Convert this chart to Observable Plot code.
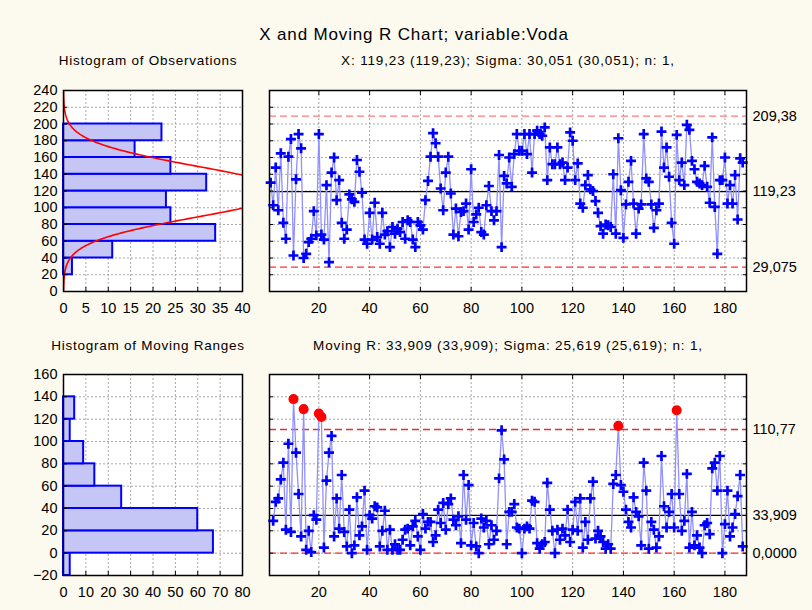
<!DOCTYPE html>
<html><head><meta charset="utf-8">
<script src="https://cdn.jsdelivr.net/npm/d3@7"></script>
<script src="https://cdn.jsdelivr.net/npm/@observablehq/plot@0.6"></script>
<style>
body{margin:0;background:#fcf9ee;}
#wrap{position:relative;width:812px;height:610px;background:#fcf9ee;font-family:"Liberation Sans",Arial,sans-serif;overflow:hidden;}
.t{position:absolute;white-space:nowrap;color:#000;line-height:normal;transform:translateX(-50%);}
.p{position:absolute;}
</style></head><body><div id="wrap"></div>
<script>
// ---- data ----
const xValues = [130,103,148,97,165,82,63,161,182,43,
134,188,171,40,45,59,63,96,67,188,
68,62,127,35,142,160,109,133,82,63,
74,116,110,107,157,143,118,62,57,94,
62,106,65,57,94,68,72,53,77,69,
75,71,83,63,85,83,62,53,83,79,
74,109,132,161,189,177,161,123,97,142,
161,117,68,99,66,95,96,105,74,146,
83,92,100,71,68,103,126,96,85,96,
163,53,138,129,160,125,164,188,168,168,
188,164,188,142,188,192,188,186,196,133,
172,152,152,172,152,154,133,148,190,180,
133,153,105,100,127,139,122,120,108,94,
78,69,80,79,77,140,69,183,121,64,
104,131,156,105,69,99,104,188,135,131,
104,76,97,105,191,148,172,137,82,57,
187,133,154,127,199,193,156,146,131,129,
127,150,125,106,184,101,45,133,133,160,
105,127,105,139,86,159,154];
// moving ranges for observations 2..187
const mrValues = [29,46,49,66,81,21,98,19,138,90,
53,15,129,3,20,1,34,30,125,122,
5,65,90,105,15,49,22,70,19,6,
39,0,7,50,16,24,56,3,34,31,
42,41,6,20,38,3,21,3,8,3,
3,12,21,22,7,24,29,15,3,35,
22,28,28,10,16,39,27,45,21,44,
49,30,25,33,9,70,30,61,7,27,
6,0,31,23,29,8,25,12,20,67,
110,84,8,37,37,44,23,22,0,22,
24,22,47,46,9,4,8,10,63,39,
20,0,21,12,22,16,39,10,21,46,
20,49,5,28,12,49,64,13,20,15,
10,4,8,4,62,70,114,61,55,39,
28,23,50,37,33,7,81,56,4,28,
21,5,15,87,42,23,37,53,23,128,
53,20,29,71,5,37,7,16,5,0,
25,27,17,76,81,56,87,0,26,56,
15,23,35,51,70,6];
const obsBinStarts = [20,40,60,80,100,120,140,160,180];
const obsCounts    = [2,11,34,24,23,32,24,16,22];
const mrBinStarts  = [-20,0,20,40,60,80,100,120];
const mrCounts     = [3,67,60,26,14,9,3,5];
const binWidth = 20;
const xMean = 119.23, xUCL = 209.38, xLCL = 29.075, xSigma = 30.051;
const mrMean = 33.909, mrUCL = 110.77, mrLCL = 0;
const xLimitLabels  = ["29,075","119,23","209,38"];
const mrLimitLabels = ["0,0000","33,909","110,77"];
const indexTicks = [20,40,60,80,100,120,140,160,180];
const obsYTicks = [0,20,40,60,80,100,120,140,160,180,200,220,240];
const obsXTicks = [0,5,10,15,20,25,30,35,40];
const mrYTicks = [-20,0,20,40,60,80,100,120,140,160];
const mrXTicks = [0,10,20,30,40,50,60,70,80];
const titleText = "X and Moving R Chart; variable:Voda";
const subTexts = ["Histogram of Observations","X: 119,23 (119,23); Sigma: 30,051 (30,051); n: 1,",
                  "Histogram of Moving Ranges","Moving R: 33,909 (33,909); Sigma: 25,619 (25,619); n: 1,"];

// ---- drawing ----
const wrap = document.getElementById("wrap");
const FONT = '"Liberation Sans", Arial, sans-serif';
function addText(txt, cx, baseline, size, ls){
  const d = document.createElement("div");
  d.className = "t"; d.textContent = txt;
  d.style.left = cx + "px"; d.style.top = (baseline - 0.905*size) + "px"; d.style.fontSize = size + "px";
  d.style.letterSpacing = ls + "px";
  wrap.appendChild(d);
}
function place(svg, left, top){ const d=document.createElement("div"); d.className="p"; d.style.left=left+"px"; d.style.top=top+"px"; d.appendChild(svg); wrap.appendChild(d); }
const gridStyle = {stroke:"#a8a8a8", strokeOpacity:1, strokeDasharray:"2,2", strokeWidth:1};
const style = {fontFamily: FONT, fontSize:"14.5px", background:"transparent", overflow:"visible", color:"#000"};
const barFill = "#c6c6f6", barStroke = "#0000ff";

addText(titleText, 414, 40, 17, 0.85);
addText(subTexts[0], 148, 65, 13.5, 0.75);
addText(subTexts[1], 508, 65, 13.5, 0.85);
addText(subTexts[2], 148, 350, 13.5, 0.75);
addText(subTexts[3], 508, 350, 13.5, 0.85);

function histogram(starts, counts, xDom, xTicks, yDom, yTicks, extra){
  const data = starts.map((s,i)=>({lo:s, hi:s+binWidth, c:counts[i]}));
  return Plot.plot({
    width:260, height:235, marginLeft:63, marginRight:18, marginTop:10, marginBottom:24,
    style,
    x:{domain:xDom}, y:{domain:yDom},
    marks:[
      Plot.frame({fill:"white", stroke:null}),
      Plot.gridX(xTicks, gridStyle),
      Plot.gridY(yTicks, gridStyle),
      Plot.rectX(data, {x:"c", y1:"lo", y2:"hi", fill:barFill, stroke:barStroke, strokeWidth:2}),
      ...(extra||[]),
      Plot.axisX(xTicks, {anchor:"bottom", tickSize:-4, tickPadding:15, label:null}),
      Plot.axisY(yTicks, {anchor:"left", tickSize:-4, tickPadding:10, label:null}),
      Plot.frame({stroke:"black", strokeWidth:1.5})
    ]
  });
}
// fitted normal curve (mean and sigma of the chart)
const N = xValues.length;
const fit = d3.range(0, 240.5, 1).map(y => ({y, c: N*binWidth*Math.exp(-0.5*((y-xMean)/xSigma)**2)/(xSigma*Math.sqrt(2*Math.PI))}));
place(histogram(obsBinStarts, obsCounts, [0,40], obsXTicks, [0,240], obsYTicks,
  [Plot.line(fit, {x:"c", y:"y", stroke:"#ff0000", strokeWidth:1.6, clip:true})]), 0, 80);
place(histogram(mrBinStarts, mrCounts, [0,80], mrXTicks, [-20,160], mrYTicks), 0, 364);

function controlChart(points, yDom, yTicks, center, ucl, lcl, limLabels, uclColor, lclColor){
  const out = points.filter(d=>d.v > ucl);
  const inn = points.filter(d=>d.v <= ucl);
  const lim = [lcl, center, ucl];
  return Plot.plot({
    width:562, height:235, marginLeft:19, marginRight:66, marginTop:10, marginBottom:24,
    style,
    x:{domain:[0.55,188.5]}, y:{domain:yDom},
    marks:[
      Plot.frame({fill:"white", stroke:null}),
      Plot.gridX(indexTicks, gridStyle),
      Plot.gridY(yTicks, gridStyle),
      Plot.ruleY([ucl], {stroke:uclColor, strokeWidth:1.4, strokeDasharray:"7,4"}),
      Plot.ruleY([lcl], {stroke:lclColor, strokeWidth:1.4, strokeDasharray:"7,4"}),
      Plot.ruleY([center], {stroke:"black", strokeWidth:1.2}),
      Plot.line(points, {x:"i", y:"v", stroke:"#9090ff", strokeWidth:1.3}),
      Plot.dot(inn, {x:"i", y:"v", symbol:"plus", r:3.3, stroke:"#0000ff", strokeWidth:2.7}),
      Plot.dot(out, {x:"i", y:"v", r:4.3, fill:"#ff0000", stroke:"#ff0000"}),
      Plot.axisX(indexTicks, {anchor:"bottom", tickSize:-4, tickPadding:15, label:null}),
      Plot.axisX(indexTicks, {anchor:"top", tickSize:-4, tickFormat:()=>"", label:null}),
      Plot.axisY(yTicks, {anchor:"left", tickSize:-4, tickFormat:()=>"", label:null}),
      Plot.axisY(yTicks, {anchor:"right", tickSize:-4, tickFormat:()=>"", label:null}),
      Plot.axisY(lim, {anchor:"right", tickSize:0, tickPadding:6, tickFormat:(d,i)=>limLabels[i], label:null}),
      Plot.frame({stroke:"black", strokeWidth:1.5})
    ]
  });
}
const xPts = xValues.map((v,i)=>({i:i+1, v}));
const mrPts = mrValues.map((v,i)=>({i:i+2, v}));
place(controlChart(xPts, [0,240], obsYTicks, xMean, xUCL, xLCL, xLimitLabels, "#ff7a7a", "#ff3030"), 250, 80);
place(controlChart(mrPts, [-20,160], mrYTicks, mrMean, mrUCL, mrLCL, mrLimitLabels, "#e03030", "#ff3030"), 250, 364);
</script></body></html>
